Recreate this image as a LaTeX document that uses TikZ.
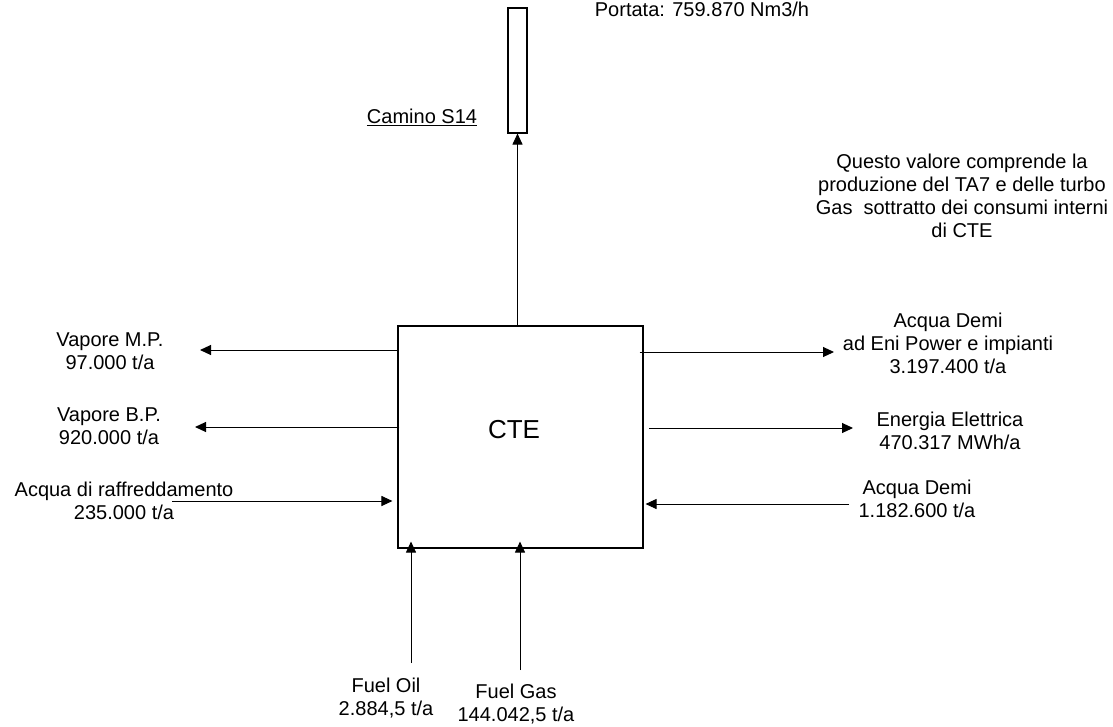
\documentclass[tikz,border=0pt]{standalone}
\usepackage{fontspec}
\setmainfont{Liberation Sans}
\usetikzlibrary{arrows.meta}
\begin{document}
\begin{tikzpicture}[x=1pt,y=-1pt,
  lbl/.style={align=center,inner sep=0pt,font=\fontsize{20}{23}\selectfont},
  arr/.style={line width=1pt,-{Triangle[length=11pt,width=10pt]}},
  blk/.style={draw,line width=1.1pt,inner sep=0pt}]
\useasboundingbox (0,0) rectangle (1113,726);
% main box and stack
\node[blk,minimum width=245pt,minimum height=222pt] (box) at (520.5,437) {};
\node[lbl,font=\fontsize{26}{30}\selectfont] (cte) at (514,430) {CTE};
\node[blk,minimum width=19pt,minimum height=125pt] (stack) at (517.5,70.5) {};
% labels
\node[lbl] (portata) at (702,9) {Portata: 759.870 Nm3/h};
\node[lbl] (camino) at (422,117) {\underline{Camino S14}};
\node[lbl] (nota) at (962,196) {Questo valore comprende la\\produzione del TA7 e delle turbo\\Gas\ \ sottratto dei consumi interni\\di CTE};
\node[lbl] (vmp) at (110,351) {Vapore M.P.\\97.000 t/a};
\node[lbl] (vbp) at (109,426) {Vapore B.P.\\920.000 t/a};
\node[lbl] (raff) at (124,501) {Acqua di raffreddamento\\235.000 t/a};
\node[lbl] (demiout) at (948,343) {Acqua Demi\\ad Eni Power e impianti\\3.197.400 t/a};
\node[lbl] (ee) at (950,431) {Energia Elettrica\\470.317 MWh/a};
\node[lbl] (demiin) at (917,499) {Acqua Demi\\1.182.600 t/a};
\node[lbl] (oil) at (386,698) {Fuel Oil\\2.884,5 t/a};
\node[lbl] (gas) at (516,704) {Fuel Gas\\144.042,5 t/a};
% free ends
\coordinate (cMP) at (200,350);
\coordinate (cBP) at (195,427);
\coordinate (cRF) at (172,501);
\coordinate (cDO) at (834,352);
\coordinate (cEEs) at (649,428);
\coordinate (cEE) at (853,428);
\coordinate (cDI) at (849,504);
\coordinate (cOil) at (411,663);
\coordinate (cGas) at (520,670);
% connectors
\draw[arr] (box.north -| stack.south) -- (stack.south);
\draw[arr] (box.west |- cMP) -- (cMP);
\draw[arr] ([xshift=2pt]box.west |- cBP) -- (cBP);
\draw[arr] (cRF) -- ([xshift=-5pt]box.west |- cRF);
\draw[arr] ([xshift=-4pt]box.east |- cDO) -- (cDO);
\draw[arr] (cEEs) -- (cEE);
\draw[arr] (cDI) -- ([xshift=2pt]box.east |- cDI);
\draw[arr] (cOil) -- ([yshift=7pt]box.south -| cOil);
\draw[arr] (cGas) -- ([yshift=7pt]box.south -| cGas);
\end{tikzpicture}
\end{document}
